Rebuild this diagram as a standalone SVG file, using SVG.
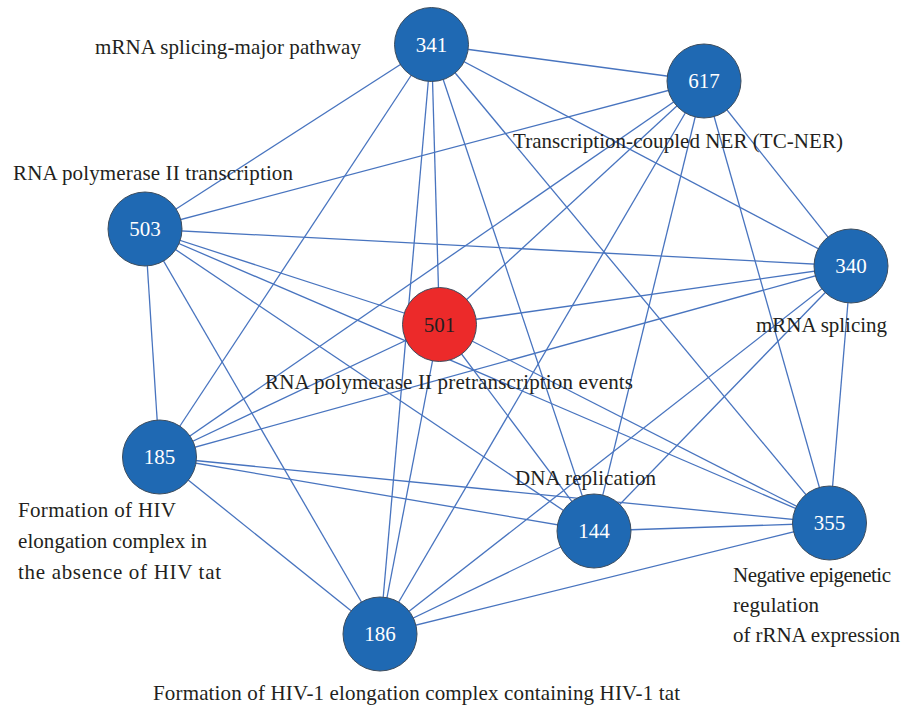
<svg xmlns="http://www.w3.org/2000/svg" width="902" height="709" viewBox="0 0 902 709">
<style>
.e{stroke:#4874bf;stroke-width:1.3;fill:none}
.n{fill:#1f69b3;stroke:#3d4d5e;stroke-width:1}
.r{fill:#ec2a2a;stroke:#3d4d5e;stroke-width:1}
.v{font-family:"Liberation Serif",serif;font-size:21px;fill:#ffffff;text-anchor:middle}
.vd{font-family:"Liberation Serif",serif;font-size:21px;fill:#231f20;text-anchor:middle}
.l{font-family:"Liberation Serif",serif;font-size:21px;fill:#231f20}
</style>
<rect width="902" height="709" fill="#ffffff"/>
<g id="connectors">
<line class="e" x1="431.5" y1="44.5" x2="704" y2="81"/>
<line class="e" x1="431.5" y1="44.5" x2="145" y2="229"/>
<line class="e" x1="431.5" y1="44.5" x2="851" y2="266"/>
<line class="e" x1="431.5" y1="44.5" x2="439.5" y2="324.5"/>
<line class="e" x1="431.5" y1="44.5" x2="159.5" y2="457"/>
<line class="e" x1="431.5" y1="44.5" x2="594" y2="531"/>
<line class="e" x1="431.5" y1="44.5" x2="829.5" y2="523"/>
<line class="e" x1="431.5" y1="44.5" x2="380" y2="634"/>
<line class="e" x1="704" y1="81" x2="145" y2="229"/>
<line class="e" x1="704" y1="81" x2="851" y2="266"/>
<line class="e" x1="704" y1="81" x2="439.5" y2="324.5"/>
<line class="e" x1="704" y1="81" x2="159.5" y2="457"/>
<line class="e" x1="704" y1="81" x2="594" y2="531"/>
<line class="e" x1="704" y1="81" x2="829.5" y2="523"/>
<line class="e" x1="704" y1="81" x2="380" y2="634"/>
<line class="e" x1="145" y1="229" x2="851" y2="266"/>
<line class="e" x1="145" y1="229" x2="439.5" y2="324.5"/>
<line class="e" x1="145" y1="229" x2="159.5" y2="457"/>
<line class="e" x1="145" y1="229" x2="594" y2="531"/>
<line class="e" x1="145" y1="229" x2="829.5" y2="523"/>
<line class="e" x1="145" y1="229" x2="380" y2="634"/>
<line class="e" x1="851" y1="266" x2="439.5" y2="324.5"/>
<line class="e" x1="851" y1="266" x2="159.5" y2="457"/>
<line class="e" x1="851" y1="266" x2="594" y2="531"/>
<line class="e" x1="851" y1="266" x2="829.5" y2="523"/>
<line class="e" x1="851" y1="266" x2="380" y2="634"/>
<line class="e" x1="439.5" y1="324.5" x2="159.5" y2="457"/>
<line class="e" x1="439.5" y1="324.5" x2="594" y2="531"/>
<line class="e" x1="439.5" y1="324.5" x2="829.5" y2="523"/>
<line class="e" x1="439.5" y1="324.5" x2="380" y2="634"/>
<line class="e" x1="159.5" y1="457" x2="594" y2="531"/>
<line class="e" x1="159.5" y1="457" x2="829.5" y2="523"/>
<line class="e" x1="159.5" y1="457" x2="380" y2="634"/>
<line class="e" x1="594" y1="531" x2="829.5" y2="523"/>
<line class="e" x1="594" y1="531" x2="380" y2="634"/>
<line class="e" x1="829.5" y1="523" x2="380" y2="634"/>
</g>
<g id="node-341">
<circle class="n" cx="431.5" cy="44.5" r="37"/>
<text class="v" x="431.5" y="51.5">341</text>
<text class="l" x="95" y="54" textLength="266">mRNA splicing-major pathway</text>
</g>
<g id="node-617">
<circle class="n" cx="704" cy="81" r="37"/>
<text class="v" x="704" y="88">617</text>
<text class="l" x="513" y="148" textLength="330">Transcription-coupled NER (TC-NER)</text>
</g>
<g id="node-503">
<circle class="n" cx="145" cy="229" r="37"/>
<text class="v" x="145" y="236">503</text>
<text class="l" x="13" y="180" textLength="280">RNA polymerase II transcription</text>
</g>
<g id="node-340">
<circle class="n" cx="851" cy="266" r="37"/>
<text class="v" x="851" y="273">340</text>
<text class="l" x="756" y="332" textLength="131">mRNA splicing</text>
</g>
<g id="node-501">
<circle class="r" cx="439.5" cy="324.5" r="37"/>
<text class="vd" x="439.5" y="331.5">501</text>
<text class="l" x="265" y="389" textLength="368">RNA polymerase II pretranscription events</text>
</g>
<g id="node-185">
<circle class="n" cx="159.5" cy="457" r="37"/>
<text class="v" x="159.5" y="464">185</text>
<text class="l" x="18" y="517" textLength="158">Formation of HIV</text>
<text class="l" x="18" y="548" textLength="189">elongation complex in</text>
<text class="l" x="18" y="579" textLength="203">the absence of HIV tat</text>
</g>
<g id="node-144">
<circle class="n" cx="594" cy="531" r="37"/>
<text class="v" x="594" y="538">144</text>
<text class="l" x="515" y="485" textLength="141">DNA replication</text>
</g>
<g id="node-355">
<circle class="n" cx="829.5" cy="523" r="37"/>
<text class="v" x="829.5" y="530">355</text>
<text class="l" x="733" y="582" textLength="158">Negative epigenetic</text>
<text class="l" x="733" y="612" textLength="86">regulation</text>
<text class="l" x="733" y="642" textLength="167">of rRNA expression</text>
</g>
<g id="node-186">
<circle class="n" cx="380" cy="634" r="37"/>
<text class="v" x="380" y="641">186</text>
<text class="l" x="153" y="700" textLength="527">Formation of HIV-1 elongation complex containing HIV-1 tat</text>
</g>
</svg>
